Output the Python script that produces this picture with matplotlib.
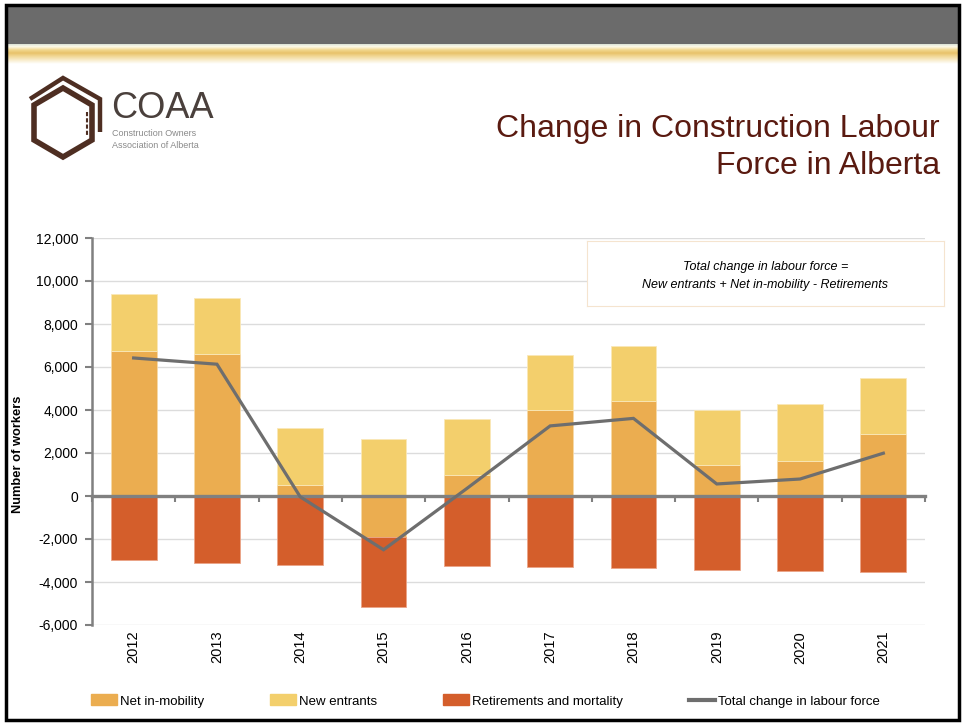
import numpy as np
import matplotlib
matplotlib.use('Agg')
import matplotlib.pyplot as plt
from matplotlib.patches import Rectangle, Polygon
from matplotlib.lines import Line2D
from matplotlib.colors import LinearSegmentedColormap
import matplotlib.transforms as mtransforms

# data
years = ['2012', '2013', '2014', '2015', '2016', '2017', '2018', '2019', '2020', '2021']
net_in_mobility = [6750, 6620, 510, -1900, 980, 4010, 4440, 1420, 1630, 2870]
new_entrants = [2650, 2600, 2670, 2650, 2600, 2550, 2530, 2580, 2630, 2630]
retirements = [-2980, -3100, -3220, -3260, -3260, -3300, -3360, -3440, -3480, -3520]
total_change = [6420, 6130, -40, -2500, 350, 3260, 3610, 560, 790, 1990]

c_net = '#EBAD50'
c_new = '#F3CF6C'
c_ret = '#D45E2B'
c_line = '#6E6E6E'
c_axis = '#808080'

plt.rcParams['font.family'] = ['Liberation Sans', 'DejaVu Sans']

W, H = 964, 723
fig = plt.figure(figsize=(W / 100, H / 100), dpi=100)

# slide background / decorations in pixel coordinates
bg = fig.add_axes([0, 0, 1, 1])
bg.set_xlim(0, W)
bg.set_ylim(H, 0)
bg.axis('off')

bg.add_patch(Rectangle((6, 6), 953, 38, color='#6B6B6B', lw=0))
band = LinearSegmentedColormap.from_list('band', [
    (0.0, '#DCE3D6'), (0.12, '#FFFBEA'), (0.3, '#F1D68C'), (0.45, '#E8C26A'),
    (0.65, '#F3DCA0'), (1.0, '#FFFFFF')])
grad = np.linspace(0, 1, 64).reshape(-1, 1)
bg.imshow(grad, cmap=band, extent=(6, 959, 64, 44), aspect='auto')
bg.add_patch(Rectangle((6, 5), 953, 715, fill=False, ec='black', lw=2.5))

# logo
brown = '#4E2E22'
hexagon = [(63, 88), (92, 105), (92, 140), (63, 157), (34, 140), (34, 105)]
bg.add_patch(Polygon(hexagon, closed=True, fill=False, ec=brown, lw=4, joinstyle='miter'))
bg.add_patch(Polygon([(30, 99), (63, 78), (100, 99), (100, 132)], closed=False,
                     fill=False, ec=brown, lw=3.2, joinstyle='miter'))
bg.plot([87, 87], [112, 135], color=brown, lw=1.5, ls=(0, (2, 1)))
bg.text(111, 118, 'COAA', fontsize=26, color='#4A403C', ha='left', va='baseline')
bg.text(112, 136, 'Construction Owners', fontsize=6.5, color='#8A8A8A', ha='left', va='baseline')
bg.text(112, 148, 'Association of Alberta', fontsize=6.5, color='#8A8A8A', ha='left', va='baseline')

# title
bg.text(940, 137, 'Change in Construction Labour', fontsize=23, color='#5A1A10',
        ha='right', va='baseline')
bg.text(940, 174, 'Force in Alberta', fontsize=23, color='#5A1A10',
        ha='right', va='baseline')

# chart
ax = fig.add_axes([92 / W, 1 - 625 / H, 833 / W, 387 / H])
ax.set_facecolor('none')
x = np.arange(len(years))
net = np.array(net_in_mobility)
new = np.array(new_entrants)
ret = np.array(retirements)
w = 0.55

ax.bar(x, net, w, color=c_net, edgecolor='#F6D9A8', linewidth=0.6, zorder=2)
ax.bar(x, new, w, bottom=np.maximum(net, 0), color=c_new, edgecolor='#FAE8B8', linewidth=0.6, zorder=2)
ax.bar(x, ret, w, bottom=np.minimum(net, 0), color=c_ret, edgecolor='#EBA487', linewidth=0.6, zorder=2)
ax.plot(x, total_change, color=c_line, lw=2.3, zorder=4, solid_joinstyle='miter')

ax.set_xlim(-0.5, len(years) - 0.5)
ax.set_ylim(-6000, 12000)
ax.set_yticks(np.arange(-6000, 12001, 2000))
ax.set_yticklabels([f'{v:,}' for v in range(-6000, 12001, 2000)], fontsize=10)
ax.grid(axis='y', color='#DCDCDC', lw=1, zorder=0)

ax.spines['top'].set_visible(False)
ax.spines['right'].set_visible(False)
ax.spines['left'].set_color(c_axis)
ax.spines['left'].set_linewidth(1.8)
ax.spines['bottom'].set_position(('data', 0))
ax.spines['bottom'].set_color(c_axis)
ax.spines['bottom'].set_linewidth(2.4)
ax.spines['bottom'].set_zorder(3)

ax.set_xticks(np.arange(-0.5, len(years), 1.0))
ax.set_xticklabels([])
ax.tick_params(axis='x', direction='out', length=4, width=1.5, color=c_axis)
ax.tick_params(axis='y', direction='out', length=5, width=1.5, color=c_axis, pad=5)

trans = mtransforms.blended_transform_factory(ax.transData, ax.transAxes)
for i, yr in enumerate(years):
    ax.text(i, -0.015, yr, transform=trans, rotation=90, ha='center', va='top', fontsize=10.5)

ax.set_ylabel('Number of workers', fontsize=9.3, fontweight='bold')
ax.yaxis.set_label_coords(-0.082, 0.44)

# formula box, on top of the gridlines
box = fig.add_axes([587 / W, 1 - 306 / H, 357 / W, 65 / H])
box.set_xticks([])
box.set_yticks([])
box.set_facecolor('white')
for s in box.spines.values():
    s.set_color('#F5E4CF')
box.text(0.5, 0.6, 'Total change in labour force =', fontsize=9, style='italic',
         ha='center', va='center', transform=box.transAxes)
box.text(0.5, 0.33, 'New entrants + Net in-mobility - Retirements', fontsize=9, style='italic',
         ha='center', va='center', transform=box.transAxes)

# legend
handles = [Rectangle((0, 0), 1, 1, color=c_net),
           Rectangle((0, 0), 1, 1, color=c_new),
           Rectangle((0, 0), 1, 1, color=c_ret),
           Line2D([0], [0], color=c_line, lw=3)]
labels = ['Net in-mobility', 'New entrants', 'Retirements and mortality', 'Total change in labour force']
fig.legend(handles, labels, loc='center left', bbox_to_anchor=(91 / W, 1 - 701 / H), ncol=4,
           frameon=False, borderpad=0, borderaxespad=0, handlelength=1.97, handleheight=0.9,
           handletextpad=0.23, columnspacing=5.0, prop={'size': 9.5})

fig.savefig('out.png', dpi=100)
